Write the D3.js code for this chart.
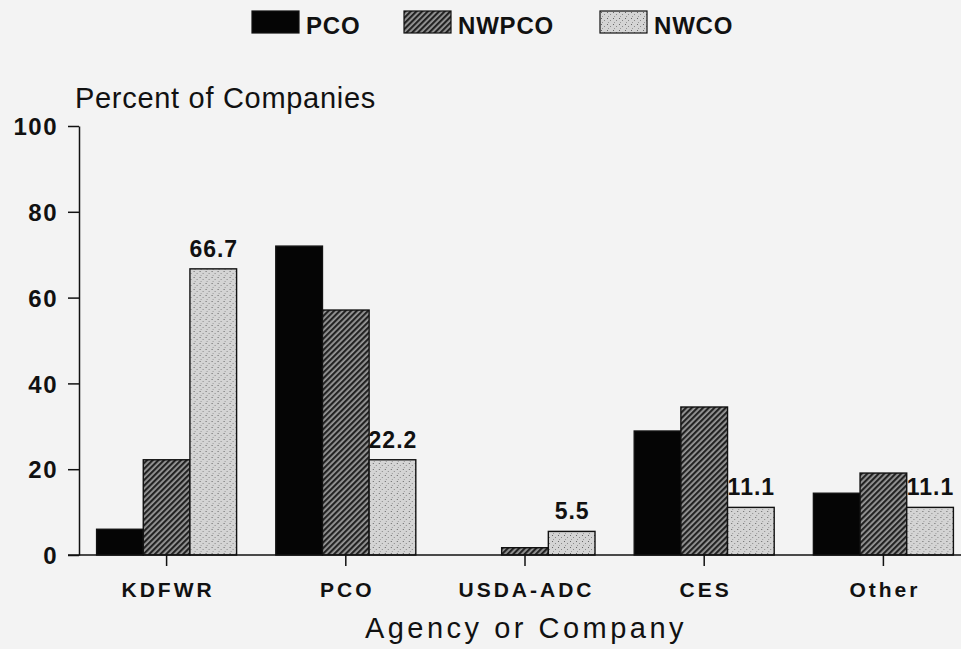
<!DOCTYPE html>
<html><head><meta charset="utf-8">
<script src="https://cdn.jsdelivr.net/npm/d3@7"></script>
<style>
html,body{margin:0;padding:0;background:#f3f3f3;}
svg{display:block;}
text{font-family:"Liberation Sans",Arial,Helvetica,sans-serif;fill:#111;}
</style></head>
<body>
<svg id="chart" width="961" height="649"></svg>
<script>
const categories = ["KDFWR","PCO","USDA-ADC","CES","Other"];
const seriesNames = ["PCO","NWPCO","NWCO"];
const pcoValues   = [6.0, 72.0, 0, 28.9, 14.4];
const nwpcoValues = [22.2, 57.1, 1.7, 34.5, 19.1];
const nwcoValues  = [66.7, 22.2, 5.5, 11.1, 11.1];
const labelledSeries = "NWCO";
const yTicks = [0,20,40,60,80,100];

const seriesValues = {PCO: pcoValues, NWPCO: nwpcoValues, NWCO: nwcoValues};
const svg = d3.select("#chart");
const defs = svg.append("defs");
const FONT = "'Liberation Sans',Arial,sans-serif";

// hatch pattern for NWPCO
const hatch = defs.append("pattern").attr("id","hatch").attr("patternUnits","userSpaceOnUse")
  .attr("width",4).attr("height",4).attr("patternTransform","rotate(45)");
hatch.append("rect").attr("width",4).attr("height",4).attr("fill","#9a9a9a");
hatch.append("rect").attr("width",2.2).attr("height",4).attr("fill","#222");
// stipple pattern for NWCO
const stip = defs.append("pattern").attr("id","stipple").attr("patternUnits","userSpaceOnUse")
  .attr("width",6).attr("height",6);
stip.append("rect").attr("width",6).attr("height",6).attr("fill","#d4d4d4");
stip.append("rect").attr("x",1).attr("y",1).attr("width",1).attr("height",1).attr("fill","#666");
stip.append("rect").attr("x",4).attr("y",3).attr("width",1).attr("height",1).attr("fill","#888");
stip.append("rect").attr("x",2).attr("y",5).attr("width",1).attr("height",1).attr("fill","#999");

const fills = {PCO:"#050505", NWPCO:"url(#hatch)", NWCO:"url(#stipple)"};

const x0 = d3.scaleBand().domain(categories).range([77, 973]).padding(0);
const groupW = 140;
const x1 = d3.scaleBand().domain(seriesNames).range([0, groupW]).padding(0);
const y = d3.scaleLinear().domain([0,100]).range([555,126]);

// y axis
const yAxis = d3.axisLeft(y).tickValues(yTicks).tickSize(11).tickPadding(10).tickSizeOuter(0);
const gy = svg.append("g").attr("transform","translate(79,0)").call(yAxis);
gy.select(".domain").attr("stroke","#111").attr("stroke-width",1.5);
gy.selectAll(".tick line").attr("stroke","#111").attr("stroke-width",1.5);
gy.selectAll(".tick text").attr("font-size",24).attr("font-weight","bold")
  .attr("letter-spacing",1.5).attr("dy","0.36em")
  .attr("font-family",FONT).attr("fill","#111");

// bars
const groups = svg.append("g").selectAll("g").data(categories).join("g")
  .attr("transform", c => `translate(${x0(c) + (x0.bandwidth()-groupW)/2},0)`);
groups.selectAll("rect").data((c,i) => seriesNames.map(s => ({s, v: seriesValues[s][i]})))
  .join("rect")
  .filter(d => d.v > 0)
  .attr("x", d => x1(d.s)).attr("width", x1.bandwidth())
  .attr("y", d => y(d.v)).attr("height", d => y(0) - y(d.v))
  .attr("fill", d => fills[d.s]).attr("stroke","#111").attr("stroke-width",1.4);

// value labels
groups.append("text")
  .attr("x", (c) => x1(labelledSeries) + x1.bandwidth()/2 + 0.5)
  .attr("y", (c,i) => y(seriesValues[labelledSeries][i]) - 12)
  .attr("text-anchor","middle").attr("font-size",23).attr("font-weight","bold")
  .attr("letter-spacing",1)
  .text((c,i) => seriesValues[labelledSeries][i].toFixed(1));

// x axis
const xAxis = d3.axisBottom(x0).tickSize(11).tickPadding(16).tickSizeOuter(0);
const gx = svg.append("g").attr("transform","translate(0,555)").call(xAxis);
gx.select(".domain").attr("stroke","#111").attr("stroke-width",1.5).attr("d","M68,0H961");
gx.selectAll(".tick line").attr("stroke","#111").attr("stroke-width",1.5);
gx.selectAll(".tick text").attr("font-size",21).attr("font-weight","bold")
  .attr("letter-spacing",3).attr("dx",1.5).attr("dy","0.72em")
  .attr("font-family",FONT).attr("fill","#111");

// titles
svg.append("text").attr("x",75).attr("y",108).attr("font-size",29).attr("letter-spacing",0.7).text("Percent of Companies");
svg.append("text").attr("x",526).attr("y",638).attr("text-anchor","middle").attr("font-size",29)
  .attr("letter-spacing",3.5).text("Agency or Company");

// legend
const legendX = [252, 404, 600];
const leg = svg.append("g").selectAll("g").data(seriesNames).join("g")
  .attr("transform",(d,i)=>`translate(${legendX[i]},11)`);
leg.append("rect").attr("width",47).attr("height",22).attr("fill",d=>fills[d]).attr("stroke","#111").attr("stroke-width",1.2);
leg.append("text").attr("x",54).attr("y",23).attr("font-size",24).attr("font-weight","bold").attr("letter-spacing",0.8).text(d=>d);
</script>
</body></html>
